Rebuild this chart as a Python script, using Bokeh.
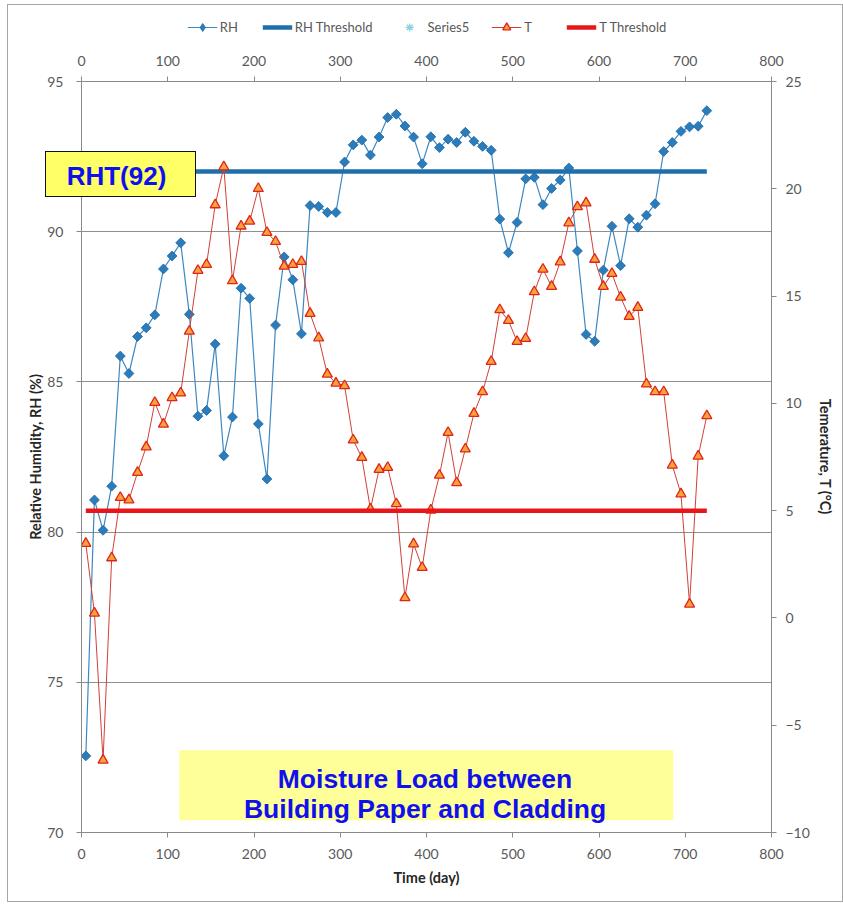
import math

from bokeh.embed import file_html
from bokeh.layouts import column
from bokeh.models import (BoxAnnotation, Div, Label, Legend, LegendItem,
                          LinearAxis, Range1d, SingleIntervalTicker)
from bokeh.plotting import figure
from bokeh.resources import INLINE

# Sampling days (every 10 days)
days = [5, 15, 25, 35, 45, 55, 65, 75, 85, 95,
        105, 115, 125, 135, 145, 155, 165, 175, 185, 195,
        205, 215, 225, 235, 245, 255, 265, 275, 285, 295,
        305, 315, 325, 335, 345, 355, 365, 375, 385, 395,
        405, 415, 425, 435, 445, 455, 465, 475, 485, 495,
        505, 515, 525, 535, 545, 555, 565, 575, 585, 595,
        605, 615, 625, 635, 645, 655, 665, 675, 685, 695,
        705, 715, 725]

# Relative humidity between building paper and cladding (%)
rh = [72.55, 81.07, 80.06, 81.53, 85.86, 85.28, 86.51, 86.80, 87.23, 88.76,
      89.19, 89.63, 87.25, 83.86, 84.05, 86.26, 82.54, 83.83, 88.12, 87.78,
      83.60, 81.77, 86.89, 89.16, 88.40, 86.60, 90.87, 90.84, 90.64, 90.64,
      92.32, 92.89, 93.05, 92.55, 93.15, 93.80, 93.91, 93.52, 93.15, 92.26,
      93.16, 92.80, 93.08, 92.97, 93.31, 93.01, 92.84, 92.71, 90.42, 89.30,
      90.31, 91.76, 91.81, 90.90, 91.44, 91.72, 92.12, 89.36, 86.58, 86.35,
      88.72, 90.18, 88.87, 90.43, 90.15, 90.55, 90.93, 92.67, 92.97, 93.34,
      93.49, 93.51, 94.03]

# Temperature (deg C)
temp = [3.47, 0.22, -6.63, 2.80, 5.61, 5.50, 6.78, 7.97, 10.04, 9.03,
        10.26, 10.48, 13.36, 16.19, 16.47, 19.25, 21.02, 15.71, 18.26, 18.49,
        20.01, 17.96, 17.54, 16.39, 16.47, 16.61, 14.19, 13.05, 11.36, 10.94,
        10.82, 8.29, 7.48, 5.07, 6.92, 7.01, 5.32, 0.94, 3.45, 2.35,
        5.02, 6.65, 8.64, 6.30, 7.87, 9.53, 10.54, 11.95, 14.36, 13.86,
        12.88, 13.02, 15.20, 16.25, 15.45, 16.59, 18.41, 19.16, 19.34, 16.71,
        15.45, 16.05, 14.95, 14.05, 14.47, 10.90, 10.54, 10.54, 7.12, 5.78,
        0.64, 7.54, 9.42]

RH_THRESHOLD = 92
T_THRESHOLD = 5
threshold_days = [days[0], days[-1]]

TICK_FONT = "Lato"
TICK_COLOR = "#595959"
AXIS_COLOR = "#8a8a8a"
CALLOUT_FONT = "Liberation Sans"
CALLOUT_BLUE = "#1010EE"

# Series styles, shared by the chart and its legend strip
RH_LINE = dict(line_color="#3E88C2", line_width=1.2)
RH_MARK = dict(fill_color="#2A7CBB", line_color="#1F66A3", line_width=0.8)
RH_THR = dict(line_color="#1F6FAD", line_width=4.5)
S5_MARK = dict(marker="asterisk", size=12, line_color="#8DD0E2", line_width=1.3)
T_LINE = dict(line_color="#CF4138", line_width=1)
T_MARK = dict(marker="triangle", size=10, fill_color="#F7A23B",
              line_color="#E02419", line_width=1.3)
T_THR = dict(line_color="#E8161B", line_width=4.5)

# ---------------------------------------------------------------- main chart
p = figure(frame_width=690, frame_height=751,
           x_range=Range1d(0, 800), y_range=Range1d(70, 95),
           output_backend="svg", toolbar_location=None,
           min_border_left=73, min_border_right=70,
           min_border_top=32, min_border_bottom=69)
p.outline_line_color = None
p.background_fill_color = "white"
p.border_fill_color = "white"
p.extra_y_ranges = {"temp": Range1d(-10, 25)}

left_ax = p.yaxis[0]
bottom_ax = p.xaxis[0]
right_ax = LinearAxis(y_range_name="temp")
top_ax = LinearAxis()
p.add_layout(right_ax, "right")
p.add_layout(top_ax, "above")

left_ax.ticker = SingleIntervalTicker(interval=5, num_minor_ticks=0)
right_ax.ticker = SingleIntervalTicker(interval=5, num_minor_ticks=0)
bottom_ax.ticker = SingleIntervalTicker(interval=100, num_minor_ticks=0)
top_ax.ticker = SingleIntervalTicker(interval=100, num_minor_ticks=0)

for ax in (left_ax, right_ax, bottom_ax, top_ax):
    ax.axis_line_color = AXIS_COLOR
    ax.major_tick_line_color = AXIS_COLOR
    ax.major_tick_out = 5
    ax.major_tick_in = 0
    ax.minor_tick_line_color = None
    ax.major_label_text_font = TICK_FONT
    ax.major_label_text_font_size = "14px"
    ax.major_label_text_color = TICK_COLOR
    ax.axis_label_text_font = TICK_FONT
    ax.axis_label_text_font_style = "bold"
    ax.axis_label_text_font_size = "14.5px"
    ax.axis_label_text_color = "#262626"

left_ax.major_label_standoff = 13
right_ax.major_label_standoff = 9
bottom_ax.major_label_standoff = 11
top_ax.major_label_standoff = 11

left_ax.axis_label = "Relative Humidity, RH (%)"
left_ax.axis_label_standoff = 0
right_ax.axis_label = "Temerature, T (°C)"
right_ax.axis_label_standoff = 4
bottom_ax.axis_label = "Time (day)"
bottom_ax.axis_label_standoff = 7

p.xgrid.visible = False
p.ygrid.ticker = left_ax.ticker
p.ygrid.grid_line_color = "#8f8f8f"
p.ygrid.grid_line_width = 1

# RH series on the left axis
p.line(days, rh, **RH_LINE)
p.scatter(days, rh, marker="square", angle=math.pi / 4, size=7, **RH_MARK)
p.line(threshold_days, [RH_THRESHOLD] * 2, **RH_THR)

# Temperature series on the right axis
p.line(days, temp, y_range_name="temp", **T_LINE)
p.scatter(days, temp, y_range_name="temp", **T_MARK)
p.line(threshold_days, [T_THRESHOLD] * 2, y_range_name="temp", **T_THR)

# Chart caption
p.add_layout(BoxAnnotation(left=113.4, right=686.1, top=72.74, bottom=70.41,
                           fill_color="#FFFF99", fill_alpha=1, line_color=None))
for line_text, y in (("Moisture Load between", 71.77),
                     ("Building Paper and Cladding", 70.775)):
    p.add_layout(Label(x=398.3, y=y, text=line_text, text_align="center",
                       text_baseline="alphabetic", text_font=CALLOUT_FONT,
                       text_font_style="bold", text_font_size="26.5px",
                       text_color=CALLOUT_BLUE))

# ---------------------------------------------------------- legend strip
leg = figure(width=834, height=44, x_range=Range1d(0, 1), y_range=Range1d(0, 1),
             output_backend="svg", toolbar_location=None,
             min_border_left=35, min_border_right=0,
             min_border_top=0, min_border_bottom=0)
leg.axis.visible = False
leg.grid.visible = False
leg.outline_line_color = None

nan = [float("nan")]
k_rh_line = leg.line(nan, nan, **RH_LINE)
k_rh_mark = leg.scatter(nan, nan, marker="diamond", size=9, **RH_MARK)
k_rh_thr = leg.line(nan, nan, **RH_THR)
k_s5 = leg.scatter(nan, nan, **S5_MARK)
k_t_line = leg.line(nan, nan, **T_LINE)
k_t_mark = leg.scatter(nan, nan, **T_MARK)
k_t_thr = leg.line(nan, nan, **T_THR)

legend = Legend(items=[
    LegendItem(label="RH", renderers=[k_rh_line, k_rh_mark]),
    LegendItem(label="RH Threshold", renderers=[k_rh_thr]),
    LegendItem(label="Series5", renderers=[k_s5]),
    LegendItem(label="T", renderers=[k_t_line, k_t_mark]),
    LegendItem(label="T Threshold", renderers=[k_t_thr]),
], orientation="horizontal", location="center",
    border_line_color=None, background_fill_alpha=0,
    label_text_font=TICK_FONT, label_text_font_size="13px",
    label_text_color=TICK_COLOR, glyph_width=30, glyph_height=20,
    label_standoff=3, spacing=22, padding=0, margin=0)
leg.add_layout(legend)

# ------------------------------------------------- RH threshold call-out
callout = Div(text="RHT(92)", width=151, height=46, styles={
    "position": "absolute", "left": "32px", "top": "141px",
    "border": "1.5px solid #111111", "background-color": "#FFFF66",
    "font-family": CALLOUT_FONT, "font-weight": "bold", "font-size": "26px",
    "color": CALLOUT_BLUE, "text-align": "center", "line-height": "44px",
    "padding-top": "2px", "padding-right": "8px", "box-sizing": "border-box",
    "overflow": "hidden",
})

page = column(leg, p, callout, spacing=0)
page.styles = {"position": "relative", "margin-left": "7px", "margin-top": "4px",
               "border": "1px solid #a6a6a6"}

open("out.html", "w").write(file_html(page, INLINE))
